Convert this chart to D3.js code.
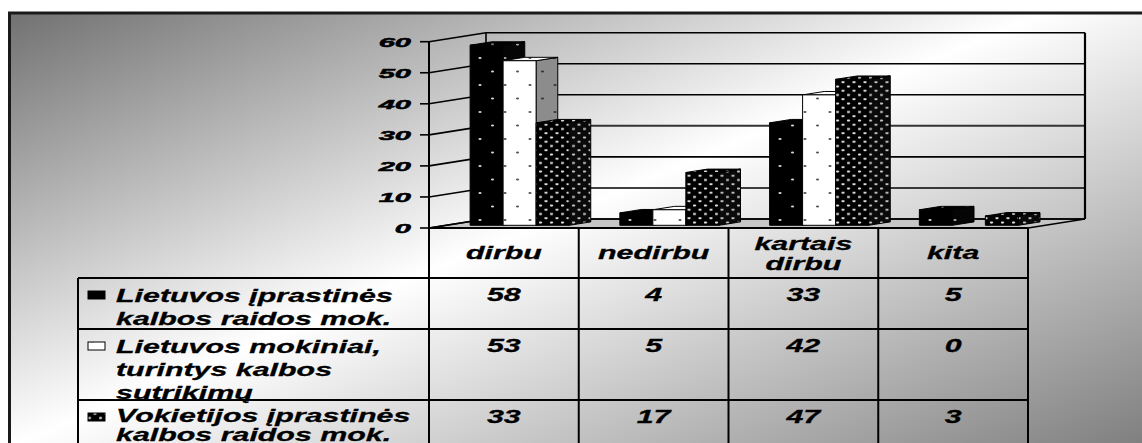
<!DOCTYPE html>
<html>
<head>
<meta charset="utf-8">
<script src="https://cdn.jsdelivr.net/npm/d3@7"></script>
<style>
  html, body { margin: 0; padding: 0; background: #fff; }
  svg { display: block; }
  text { font-family: "Liberation Sans", Arial, sans-serif; font-weight: bold; font-style: italic; fill: #000; }
</style>
</head>
<body>
<svg id="chart" width="1142" height="443"></svg>
<script>
// ---- data ----
const categories = ["dirbu", "nedirbu", "kartais dirbu", "kita"];
const categoryLines = [["dirbu"], ["nedirbu"], ["kartais", "dirbu"], ["kita"]];
const seriesKeys = ["lt", "ltSutr", "de"];
const seriesLines = [
  ["Lietuvos įprastinės", "kalbos raidos mok."],
  ["Lietuvos mokiniai,", "turintys kalbos", "sutrikimų"],
  ["Vokietijos įprastinės", "kalbos raidos mok."]
];
const lietuvosIprastines = [58, 4, 33, 5];
const lietuvosSutrikimai = [53, 5, 42, 0];
const vokietijosIprastines = [33, 17, 47, 3];
const yTicks = [0, 10, 20, 30, 40, 50, 60];

const seriesValues = [lietuvosIprastines, lietuvosSutrikimai, vokietijosIprastines];

// ---- layout ----
const W = 1142, H = 443;
const front = { left: 429, right: 1028, base: 228, top: 41.7 };
const DX = 57, DY = 9;            // wall depth offset
const T0 = 0.3, T1 = 0.68;        // bar depth range (fraction of wall depth)
const table = { legendLeft: 78, rows: [228, 278, 329, 400, 471] };

const svg = d3.select("#chart");
const defs = svg.append("defs");

// background gradient
const grad = defs.append("linearGradient").attr("id", "bg")
  .attr("gradientUnits", "userSpaceOnUse")
  .attr("x1", 10).attr("y1", 12).attr("x2", 333).attr("y2", 782);
grad.append("stop").attr("offset", 0).attr("stop-color", "#717171");
grad.append("stop").attr("offset", 0.48).attr("stop-color", "#ffffff");
grad.append("stop").attr("offset", 1).attr("stop-color", "#808080");

// fill patterns
function dotPattern(id, w, h, bg, dot, dots, dw, dh) {
  const p = defs.append("pattern").attr("id", id)
    .attr("patternUnits", "userSpaceOnUse").attr("width", w).attr("height", h);
  p.append("rect").attr("width", w).attr("height", h).attr("fill", bg);
  dots.forEach(([x, y]) => p.append("ellipse")
    .attr("cx", x).attr("cy", y).attr("rx", dw / 2).attr("ry", dh / 2).attr("fill", dot));
}
dotPattern("p-lt", 25, 27, "#000", "#d6d6d6", [[5, 4], [17.5, 17.5]], 3.2, 1.8);
dotPattern("p-lt-side", 25, 27, "#050505", "#b0b0b0", [[5, 4], [17.5, 17.5]], 3.2, 1.8);
dotPattern("p-sutr", 25, 27, "#fff", "#555", [[5, 4], [17.5, 17.5]], 3.2, 1.8);
dotPattern("p-sutr-side", 25, 27, "#8c8c8c", "#333", [[5, 4], [17.5, 17.5]], 3.2, 1.8);
dotPattern("p-de", 11, 8.5, "#000", "#e2e2e2", [[1.5, 1.5], [7, 5.75]], 3.6, 2.1);
dotPattern("p-de-side", 11, 8.5, "#0a0a0a", "#c4c4c4", [[1.5, 1.5], [7, 5.75]], 3.6, 2.1);

const fills = [
  { front: "url(#p-lt)", side: "url(#p-lt-side)", top: "url(#p-lt)" },
  { front: "url(#p-sutr)", side: "url(#p-sutr-side)", top: "url(#p-sutr)" },
  { front: "url(#p-de)", side: "url(#p-de-side)", top: "url(#p-de)" }
];

// ---- scales ----
const x = d3.scaleBand().domain(categories).range([front.left, front.right]).paddingInner(0).paddingOuter(0);
const xs = d3.scaleBand().domain(d3.range(seriesKeys.length)).range([24, 24 + 99]);
const y = d3.scaleLinear().domain([0, 60]).range([front.base, front.top]);
const proj = (px, v, t) => [px + t * DX, y(v) - t * DY];

// ---- frame & background ----
svg.append("rect").attr("x", 9.5).attr("y", 13).attr("width", W + 20).attr("height", H + 20)
  .attr("fill", "url(#bg)").attr("stroke", "#1a1a1a").attr("stroke-width", 3);

const line = (g, x1, y1, x2, y2, sw = 1.6, col = "#000") => g.append("line")
  .attr("x1", x1).attr("y1", y1).attr("x2", x2).attr("y2", y2)
  .attr("stroke", col).attr("stroke-width", sw);

// ---- walls ----
const walls = svg.append("g");
// floor
const fl = [proj(front.left, 0, 0), proj(front.right, 0, 0), proj(front.right, 0, 1), proj(front.left, 0, 1)];
walls.append("polygon").attr("points", fl.map(p => p.join(",")).join(" "))
  .attr("fill", "#c6c6c6").attr("stroke", "#000").attr("stroke-width", 1.6);

// gridlines on back and side walls
yTicks.forEach(v => {
  const a = proj(front.left, v, 0), b = proj(front.left, v, 1), c = proj(front.right, v, 1);
  line(walls, a[0], a[1], b[0], b[1], 1.6);
  line(walls, b[0], b[1], c[0], c[1], v === 30 ? 2 : 1.6, v === 30 ? "#333" : "#000");
});
{
  const bl0 = proj(front.left, 0, 1), bl1 = proj(front.left, 60, 1);
  const br0 = proj(front.right, 0, 1), br1 = proj(front.right, 60, 1);
  line(walls, bl0[0], bl0[1], bl1[0], bl1[1], 1.6);
  line(walls, br0[0], br0[1], br1[0], br1[1], 2.2);
}

// ---- bars ----
const bars = svg.append("g");
const poly = (pts, fill) => bars.append("polygon")
  .attr("points", pts.map(p => p.join(",")).join(" "))
  .attr("fill", fill).attr("stroke", "#000").attr("stroke-width", 1).attr("stroke-linejoin", "round");

categories.forEach((cat, j) => {
  seriesValues.forEach((vals, i) => {
    const v = vals[j];
    if (!(v > 0)) return;
    const x0 = x(cat) + xs(i), x1 = x0 + xs.bandwidth();
    const fBL = proj(x0, 0, T0), fBR = proj(x1, 0, T0), fTL = proj(x0, v, T0), fTR = proj(x1, v, T0);
    const bBR = proj(x1, 0, T1), bTR = proj(x1, v, T1), bTL = proj(x0, v, T1);
    poly([fBR, fTR, bTR, bBR], fills[i].side);
    poly([fTL, fTR, bTR, bTL], fills[i].top);
    poly([fBL, fBR, fTR, fTL], fills[i].front);
  });
});

// ---- value axis ----
const axis = svg.append("g");
line(axis, front.left, front.top, front.left, H + 5, 2);
yTicks.forEach(v => {
  line(axis, front.left - 9, y(v), front.left, y(v), 1.6);
});

function stretched(g, str, px, py, anchor, size, sx) {
  return g.append("text")
    .attr("transform", `translate(${px},${py}) scale(${sx},1)`)
    .attr("text-anchor", anchor)
    .attr("font-size", size)
    .text(str);
}
yTicks.forEach(v => stretched(axis, String(v), 411, y(v) + 4.9, "end", 13.5, 2.15)
  .attr("stroke", "#000").attr("stroke-width", 0.5));

// ---- data table ----
const tbl = svg.append("g");
const rows = table.rows;
// horizontal rules
line(tbl, front.left, rows[0], front.right, rows[0], 2);
for (let r = 1; r < rows.length - 1; r++) line(tbl, table.legendLeft, rows[r], front.right, rows[r], 2);
// vertical rules
line(tbl, table.legendLeft, rows[1], table.legendLeft, H + 5, 2);
categories.forEach(cat => line(tbl, x(cat) + x.bandwidth(), rows[0], x(cat) + x.bandwidth(), H + 5, 2));

const TS = 19, TSX = 1.6;
// column headers
categories.forEach((cat, j) => {
  const lines = categoryLines[j];
  const cx = x(cat) + x.bandwidth() / 2;
  const first = lines.length === 1 ? 259 : 250;
  lines.forEach((ln, k) => stretched(tbl, ln, cx, first + k * 19.5, "middle", TS, TSX)
    .attr("stroke", "#000").attr("stroke-width", 0.3));
});
// values and legend
const legendBaselines = [[301.5, 324.5], [352.5, 375.5, 398.5], [421.5, 440.5]];
seriesValues.forEach((vals, i) => {
  const top = rows[i + 1];
  categories.forEach((cat, j) => {
    stretched(tbl, String(vals[j]), x(cat) + x.bandwidth() / 2, top + 23, "middle", TS, TSX)
      .attr("stroke", "#000").attr("stroke-width", 0.3);
  });
  seriesLines[i].forEach((ln, k) => stretched(tbl, ln, 116, legendBaselines[i][k], "start", TS, TSX)
    .attr("stroke", "#000").attr("stroke-width", 0.3));
  // legend key
  const ky = top + 13;
  tbl.append("rect").attr("x", 88).attr("y", ky).attr("width", 17).attr("height", 8)
    .attr("fill", fills[i].front).attr("stroke", "#000").attr("stroke-width", 1);
});
</script>
</body>
</html>
